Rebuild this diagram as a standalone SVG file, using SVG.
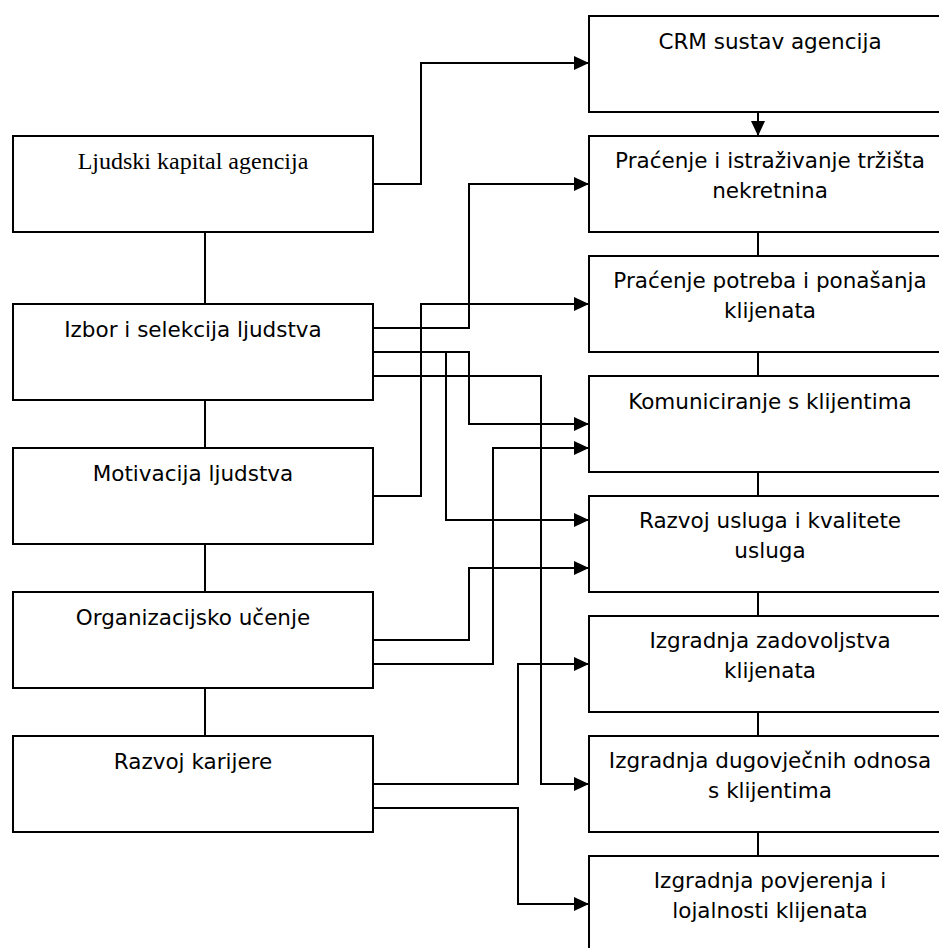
<svg xmlns="http://www.w3.org/2000/svg" width="939" height="948" viewBox="0 0 939 948">
<style>
.box{fill:#fff;stroke:#000;stroke-width:2}
.t{font-family:"DejaVu Sans",Verdana,sans-serif;font-size:21.5px;fill:#000;text-anchor:middle}
.ts{font-family:"Liberation Serif","Times New Roman",serif;font-size:24px;fill:#000;text-anchor:middle}
.c{fill:none;stroke:#000;stroke-width:2}
.a{marker-end:url(#arr)}
</style>
<defs>
<marker id="arr" markerUnits="userSpaceOnUse" markerWidth="15" markerHeight="14" refX="15" refY="7" orient="auto" viewBox="0 0 15 14">
<path d="M0,0 L15,7 L0,14 z" fill="#000"/>
</marker>
</defs>
<rect width="939" height="948" fill="#fff"/>
<g id="connectors">
<line class="c" x1="205" y1="232" x2="205" y2="304"/>
<line class="c" x1="205" y1="400" x2="205" y2="448"/>
<line class="c" x1="205" y1="544" x2="205" y2="592"/>
<line class="c" x1="205" y1="688" x2="205" y2="736"/>
<line class="c a" x1="758" y1="112" x2="758" y2="136"/>
<line class="c" x1="758" y1="232" x2="758" y2="256"/>
<line class="c" x1="758" y1="352" x2="758" y2="376"/>
<line class="c" x1="758" y1="472" x2="758" y2="496"/>
<line class="c" x1="758" y1="592" x2="758" y2="616"/>
<line class="c" x1="758" y1="712" x2="758" y2="736"/>
<line class="c" x1="758" y1="832" x2="758" y2="856"/>
<polyline class="c a" points="373,184 421,184 421,63 589,63"/>
<polyline class="c a" points="373,328 469,328 469,184 589,184"/>
<polyline class="c a" points="373,496 421,496 421,304 589,304"/>
<polyline class="c a" points="373,352 469,352 469,424 589,424"/>
<polyline class="c a" points="446,352 446,520 589,520"/>
<polyline class="c a" points="373,376 541,376 541,784 589,784"/>
<polyline class="c a" points="373,664 493,664 493,448 589,448"/>
<polyline class="c a" points="373,640 469,640 469,568 589,568"/>
<polyline class="c a" points="373,784 518,784 518,664 589,664"/>
<polyline class="c a" points="373,808 518,808 518,904 589,904"/>
</g>
<g id="ljudski"><rect class="box" x="13" y="136" width="360" height="96"/><text class="ts" x="193" y="169">Ljudski kapital agencija</text></g>
<g id="izbor"><rect class="box" x="13" y="304" width="360" height="96"/><text class="t" x="193" y="337">Izbor i selekcija ljudstva</text></g>
<g id="motivacija"><rect class="box" x="13" y="448" width="360" height="96"/><text class="t" x="193" y="481">Motivacija ljudstva</text></g>
<g id="organizacijsko"><rect class="box" x="13" y="592" width="360" height="96"/><text class="t" x="193" y="625">Organizacijsko učenje</text></g>
<g id="karijera"><rect class="box" x="13" y="736" width="360" height="96"/><text class="t" x="193" y="769">Razvoj karijere</text></g>
<g id="crm"><rect class="box" x="589" y="16" width="362" height="96"/><text class="t" x="770" y="49">CRM sustav agencija</text></g>
<g id="trziste"><rect class="box" x="589" y="136" width="362" height="96"/><text class="t" x="770" y="168">Praćenje i istraživanje tržišta</text><text class="t" x="770" y="198">nekretnina</text></g>
<g id="potrebe"><rect class="box" x="589" y="256" width="362" height="96"/><text class="t" x="770" y="288">Praćenje potreba i ponašanja</text><text class="t" x="770" y="318">klijenata</text></g>
<g id="komuniciranje"><rect class="box" x="589" y="376" width="362" height="96"/><text class="t" x="770" y="409">Komuniciranje s klijentima</text></g>
<g id="usluge"><rect class="box" x="589" y="496" width="362" height="96"/><text class="t" x="770" y="528">Razvoj usluga i kvalitete</text><text class="t" x="770" y="558">usluga</text></g>
<g id="zadovoljstvo"><rect class="box" x="589" y="616" width="362" height="96"/><text class="t" x="770" y="648">Izgradnja zadovoljstva</text><text class="t" x="770" y="678">klijenata</text></g>
<g id="odnosi"><rect class="box" x="589" y="736" width="362" height="96"/><text class="t" x="770" y="768">Izgradnja dugovječnih odnosa</text><text class="t" x="770" y="798">s klijentima</text></g>
<g id="povjerenje"><rect class="box" x="589" y="856" width="362" height="96"/><text class="t" x="770" y="888">Izgradnja povjerenja i</text><text class="t" x="770" y="918">lojalnosti klijenata</text></g>
</svg>
